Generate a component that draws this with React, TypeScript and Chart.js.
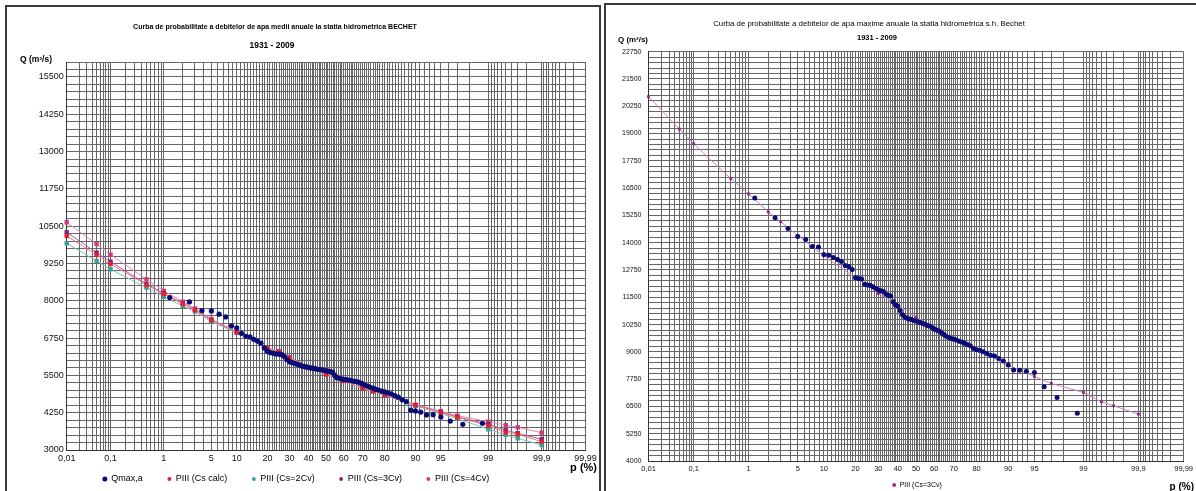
import React, { useEffect, useRef } from 'react';
import { Chart, LinearScale, registerables } from 'chart.js';

Chart.register(...registerables);

const FONT = "'Liberation Sans Narrow', 'Arial Narrow', 'Liberation Sans', Arial, sans-serif";

// ---------------- DATA ----------------
// plotting positions (%) of the 79 observed values (1931-2009)
const plottingPositions = [1.25, 2.5, 3.75, 5, 6.25, 7.5, 8.75, 10, 11.25, 12.5, 13.75, 15, 16.25, 17.5, 18.75, 20, 21.25, 22.5, 23.75, 25, 26.25, 27.5, 28.75, 30, 31.25, 32.5, 33.75, 35, 36.25, 37.5, 38.75, 40, 41.25, 42.5, 43.75, 45, 46.25, 47.5, 48.75, 50, 51.25, 52.5, 53.75, 55, 56.25, 57.5, 58.75, 60, 61.25, 62.5, 63.75, 65, 66.25, 67.5, 68.75, 70, 71.25, 72.5, 73.75, 75, 76.25, 77.5, 78.75, 80, 81.25, 82.5, 83.75, 85, 86.25, 87.5, 88.75, 90, 91.25, 92.5, 93.75, 95, 96.25, 97.5, 98.75];

// left chart: observed values Qmax,a
const qMeanObs = [8110, 7960, 7670, 7660, 7550, 7460, 7160, 7090, 6910, 6810,
  6790, 6710, 6650, 6580, 6420, 6310, 6260, 6240, 6220, 6210,
  6195, 6130, 6030, 5960, 5930, 5905, 5880, 5850, 5820, 5800,
  5785, 5770, 5750, 5740, 5725, 5705, 5695, 5685, 5670, 5655,
  5640, 5625, 5600, 5500, 5420, 5400, 5380, 5370, 5360, 5345,
  5330, 5310, 5295, 5280, 5250, 5215, 5170, 5140, 5100, 5070,
  5030, 5010, 4970, 4950, 4910, 4880, 4820, 4770, 4680, 4620,
  4340, 4310, 4270, 4175, 4185, 4105, 3970, 3860, 3895];

// right chart: observed maxima
const qMaxObs = [16050, 15140, 14650, 14280, 14150, 13830, 13800, 13460, 13420, 13320,
  13230, 13140, 12960, 12910, 12770, 12390, 12360, 12340, 12100, 12060,
  12040, 11980, 11900, 11850, 11800, 11760, 11640, 11590, 11560, 11300,
  11150, 11100, 10900, 10700, 10600, 10540, 10510, 10480, 10440, 10410,
  10370, 10350, 10300, 10260, 10210, 10180, 10110, 10030, 10000, 9950,
  9880, 9800, 9720, 9660, 9610, 9580, 9540, 9490, 9450, 9390,
  9340, 9280, 9150, 9100, 9060, 9000, 8930, 8844, 8812, 8690,
  8580, 8400, 8170, 8160, 8110, 8050, 7400, 6910, 6190];

// Pearson III curves (probabilities in %)
const curveP = [0.01, 0.05, 0.1, 0.5, 1, 2, 3, 5, 10, 20, 25, 30, 40, 50, 60, 70, 75, 80, 90, 95, 97, 99, 99.5, 99.7, 99.9];
const qCsCalc = [10170, 9535, 9233, 8530, 8228, 7892, 7685, 7340, 6940, 6410, 6292, 6093, 5770, 5550, 5320, 5064, 4973, 4838, 4500, 4255, 4095, 3815, 3590, 3525, 3280];
const qCs2Cv = [9926, 9333, 9055, 8440, 8137, 7826, 7640, 7300, 6920, 6400, 6288, 6090, 5775, 5565, 5328, 5062, 4970, 4834, 4480, 4220, 4050, 3695, 3505, 3390, 3170];
const qCs3Cv = [10295, 9612, 9310, 8563, 8250, 7915, 7700, 7350, 6945, 6415, 6295, 6095, 5768, 5545, 5318, 5065, 4975, 4840, 4505, 4270, 4110, 3870, 3660, 3560, 3360];
const qCs4Cv = [10630, 9900, 9545, 8720, 8330, 7970, 7740, 7390, 6960, 6420, 6300, 6100, 5760, 5530, 5310, 5070, 4978, 4845, 4520, 4300, 4150, 3950, 3830, 3760, 3580];
const qMaxCs3Cv = [20694, 19204, 18533, 16933, 16234, 15411, 14960, 14330, 13400, 12377, 12043, 11680, 11129, 10594, 10110, 9620, 9347, 9087, 8387, 7871, 7551, 7140, 6710, 6527, 6148];

// axis tick labels
const xTickValues = [0.01, 0.1, 1, 5, 10, 20, 30, 40, 50, 60, 70, 80, 90, 95, 99, 99.9, 99.99];
const xTickLabels = ['0,01', '0,1', '1', '5', '10', '20', '30', '40', '50', '60', '70', '80', '90', '95', '99', '99,9', '99,99'];
const yLabelsLeft = [3000, 4250, 5500, 6750, 8000, 9250, 10500, 11750, 13000, 14250, 15500];
const yLabelsRight = [4000, 5250, 6500, 7750, 9000, 10250, 11500, 12750, 14000, 15250, 16500, 17750, 19000, 20250, 21500, 22750];

// ---------------- probability (normal) scale ----------------
function probit(p: number): number {
  const a = [-3.969683028665376e+01, 2.209460984245205e+02, -2.759285104469687e+02, 1.383577518672690e+02, -3.066479806614716e+01, 2.506628277459239e+00];
  const b = [-5.447609879822406e+01, 1.615858368580409e+02, -1.556989798598866e+02, 6.680131188771972e+01, -1.328068155288572e+01];
  const c = [-7.784894002430293e-03, -3.223964580411365e-01, -2.400758277161838e+00, -2.549732539343734e+00, 4.374664141464968e+00, 2.938163982698783e+00];
  const d = [7.784695709041462e-03, 3.224671290700398e-01, 2.445134137142996e+00, 3.754408661907416e+00];
  const pl = 0.02425;
  if (p < pl) {
    const q = Math.sqrt(-2 * Math.log(p));
    return (((((c[0] * q + c[1]) * q + c[2]) * q + c[3]) * q + c[4]) * q + c[5]) / ((((d[0] * q + d[1]) * q + d[2]) * q + d[3]) * q + 1);
  }
  if (p > 1 - pl) {
    const q = Math.sqrt(-2 * Math.log(1 - p));
    return -(((((c[0] * q + c[1]) * q + c[2]) * q + c[3]) * q + c[4]) * q + c[5]) / ((((d[0] * q + d[1]) * q + d[2]) * q + d[3]) * q + 1);
  }
  const q = p - 0.5;
  const r = q * q;
  return (((((a[0] * r + a[1]) * r + a[2]) * r + a[3]) * r + a[4]) * r + a[5]) * q / (((((b[0] * r + b[1]) * r + b[2]) * r + b[3]) * r + b[4]) * r + 1);
}

function zOfPercent(v: number): number {
  const p = Math.min(Math.max(v / 100, 1e-9), 1 - 1e-9);
  return probit(p);
}

class ProbabilityScale extends LinearScale {
  static id = 'probability';
  static defaults = LinearScale.defaults;
  getPixelForValue(value: number) {
    const z0 = zOfPercent(this.min);
    const z1 = zOfPercent(this.max);
    return this.getPixelForDecimal((zOfPercent(value) - z0) / (z1 - z0));
  }
  getValueForPixel(pixel: number) {
    const z0 = zOfPercent(this.min);
    const z1 = zOfPercent(this.max);
    const target = z0 + this.getDecimalForPixel(pixel) * (z1 - z0);
    let lo = this.min, hi = this.max;
    for (let i = 0; i < 60; i++) {
      const mid = (lo + hi) / 2;
      if (zOfPercent(mid) < target) lo = mid; else hi = mid;
    }
    return (lo + hi) / 2;
  }
}
Chart.register(ProbabilityScale as any);

// grid positions of the probability paper
function probabilityGrid(): number[] {
  const g: number[] = [];
  for (let k = 1; k <= 9; k++) g.push(+(k * 0.01).toFixed(2));
  for (let k = 1; k <= 9; k++) g.push(+(k * 0.1).toFixed(1));
  for (let k = 1; k <= 99; k++) g.push(k);
  for (let k = 1; k <= 9; k++) g.push(+(99 + k * 0.1).toFixed(1));
  for (let k = 1; k <= 9; k++) g.push(+(99.9 + k * 0.01).toFixed(2));
  return g;
}
function stepGrid(min: number, max: number, step: number): number[] {
  const g: number[] = [];
  for (let v = min; v <= max; v += step) g.push(v);
  return g;
}
const xGrid = probabilityGrid();

function xLabel(value: number): string {
  const i = xTickValues.findIndex((t) => Math.abs(t - value) < 1e-6);
  return i >= 0 ? xTickLabels[i] : '';
}

interface TextItem { text: string; x: number; y: number; weight: string; size: number; align: CanvasTextAlign; fitWidth?: number }
interface LegendSpec { centerX: number; y: number; size: number; gap: number; exclude: string[] }

function panelPlugin(items: TextItem[], legend: LegendSpec) {
  return {
    id: 'panelTexts',
    afterDraw(chart: Chart) {
      const ctx = chart.ctx;
      ctx.save();
      ctx.fillStyle = '#000';
      ctx.textBaseline = 'middle';
      for (const t of items) {
        let size = t.size;
        ctx.font = `${t.weight} ${size}px ${FONT}`;
        if (t.fitWidth) {
          const w = ctx.measureText(t.text).width;
          size = size * t.fitWidth / w;
          ctx.font = `${t.weight} ${size}px ${FONT}`;
        }
        ctx.textAlign = t.align;
        ctx.fillText(t.text, t.x, t.y);
      }
      // legend
      const dsList = (chart.data.datasets as any[]).filter((ds) => !legend.exclude.includes(ds.label));
      ctx.font = `${legend.size}px ${FONT}`;
      const box = 4;
      const widths = dsList.map((ds) => box + legend.size / 2 + ctx.measureText(ds.label).width);
      const total = widths.reduce((s, w) => s + w, 0) + legend.gap * (dsList.length - 1);
      let x = legend.centerX - total / 2;
      dsList.forEach((ds, i) => {
        const color = ds.pointBackgroundColor || ds.backgroundColor;
        ctx.fillStyle = color;
        ctx.beginPath();
        ctx.arc(x + box / 2, legend.y, ds.showLine ? 1.9 : 2.5, 0, Math.PI * 2);
        ctx.fill();
        ctx.fillStyle = '#000';
        ctx.textAlign = 'left';
        ctx.fillText(ds.label, x + box + legend.size / 2, legend.y);
        x += widths[i] + legend.gap;
      });
      ctx.restore();
    },
  };
}

const GRID = '#666666';

interface PanelOpts {
  yMin: number; yMax: number; yLabels: number[]; yWidth: number; yFont: number; yPad: number;
  xFont: number; xHeight: number;
  padding: { left: number; right: number; top: number; bottom: number };
}

function panelOptions(o: PanelOpts): any {
  const yGrid = stepGrid(o.yMin, o.yMax, 250);
  return {
    responsive: false,
    animation: false,
    events: [],
    layout: { padding: o.padding, autoPadding: false },
    plugins: {
      title: { display: false },
      tooltip: { enabled: false },
      legend: { display: false },
    },
    scales: {
      x: {
        type: 'probability',
        min: 0.01,
        max: 99.99,
        afterBuildTicks: (s: any) => { s.ticks = xGrid.map((v) => ({ value: v })); },
        afterFit: (s: any) => { s.height = o.xHeight; },
        ticks: {
          autoSkip: false, maxRotation: 0, minRotation: 0, padding: 3, color: '#111',
          font: { size: o.xFont, family: FONT },
          callback: (v: number) => xLabel(v),
        },
        grid: { color: GRID, lineWidth: 1, drawTicks: false },
        border: { color: '#333', width: 1 },
      },
      y: {
        type: 'linear',
        min: o.yMin,
        max: o.yMax,
        afterBuildTicks: (s: any) => { s.ticks = yGrid.map((v) => ({ value: v })); },
        afterFit: (s: any) => { s.width = o.yWidth; },
        ticks: {
          autoSkip: false, padding: o.yPad, color: '#111',
          font: { size: o.yFont, family: FONT },
          callback: (v: number) => (o.yLabels.includes(v) ? String(v) : ''),
        },
        grid: { color: GRID, lineWidth: 1, drawTicks: false },
        border: { color: '#333', width: 1 },
      },
    },
  };
}

function pts(xs: number[], ys: number[]) {
  return xs.map((x, i) => ({ x, y: ys[i] }));
}

function curveDataset(label: string, ys: number[], marker: string, line: string, radius: number) {
  return {
    label,
    data: pts(curveP, ys),
    showLine: true,
    borderColor: line,
    borderWidth: 1,
    backgroundColor: marker,
    pointStyle: 'rect',
    pointRadius: radius,
    pointBackgroundColor: marker,
    pointBorderColor: marker,
    pointBorderWidth: 0,
    clip: false,
  };
}

function leftConfig(): any {
  return {
    type: 'scatter',
    data: {
      datasets: [
        {
          label: 'Qmax,a', data: pts(plottingPositions, qMeanObs), showLine: false,
          pointStyle: 'circle', pointRadius: 2.6, backgroundColor: '#0b0b78', borderColor: '#0b0b78',
          pointBorderWidth: 0, clip: false,
        },
        curveDataset('PIII (Cs calc)', qCsCalc, '#e4202c', '#ef7a7a', 3.1),
        curveDataset('PIII (Cs=2Cv)', qCs2Cv, '#3a9f9a', '#7cc3be', 3.1),
        curveDataset('PIII (Cs=3Cv)', qCs3Cv, '#86207a', '#a860a0', 3.1),
        curveDataset('PIII (Cs=4Cv)', qCs4Cv, '#cf3a7c', '#e48ab2', 3.1),
      ],
    },
    options: panelOptions({
      yMin: 3000, yMax: 16000, yLabels: yLabelsLeft, yWidth: 60.2, yFont: 9, yPad: 3,
      xFont: 9, xHeight: 14,
      padding: { left: 6.5, right: 14.5, top: 62, bottom: 46 },
    }),
    plugins: [panelPlugin([
      { text: 'Curba de probabilitate a debitelor de apa medii anuale la statia hidrometrica BECHET', x: 275, y: 27.5, weight: 'bold', size: 8, align: 'center', fitWidth: 284 },
      { text: '1931 - 2009', x: 272, y: 45.5, weight: 'bold', size: 11, align: 'center', fitWidth: 45 },
      { text: 'Q (m³/s)', x: 20, y: 60, weight: 'bold', size: 10, align: 'left', fitWidth: 32 },
      { text: 'p (%)', x: 597, y: 468, weight: 'bold', size: 11, align: 'right' },
    ], { centerX: 296, y: 479, size: 9, gap: 24.5, exclude: [] })],
  };
}

function rightConfig(): any {
  return {
    type: 'scatter',
    data: {
      datasets: [
        {
          label: 'Qmax,a', data: pts(plottingPositions, qMaxObs), showLine: false,
          pointStyle: 'circle', pointRadius: 2.5, backgroundColor: '#0b0b78', borderColor: '#0b0b78',
          pointBorderWidth: 0, clip: false,
        },
        curveDataset('PIII (Cs=3Cv)', qMaxCs3Cv, '#8e2a80', '#cf84b8', 2),
      ],
    },
    options: panelOptions({
      yMin: 4000, yMax: 22750, yLabels: yLabelsRight, yWidth: 48.5, yFont: 7, yPad: 7,
      xFont: 7.5, xHeight: 12,
      padding: { left: 0, right: 12, top: 51.7, bottom: 37 },
    }),
    plugins: [panelPlugin([
      { text: 'Curba de probabilitate a debitelor de apa maxime anuale la statia hidrometrica s.h. Bechet', x: 269, y: 23.5, weight: 'normal', size: 8, align: 'center', fitWidth: 312 },
      { text: '1931 - 2009', x: 277, y: 37.5, weight: 'bold', size: 9, align: 'center', fitWidth: 40 },
      { text: 'Q (m³/s)', x: 18, y: 40, weight: 'bold', size: 9, align: 'left', fitWidth: 30 },
      { text: 'p (%)', x: 594, y: 487, weight: 'bold', size: 10, align: 'right' },
    ], { centerX: 317, y: 485, size: 7, gap: 0, exclude: ['Qmax,a'] })],
  };
}

function ChartCanvas(props: { make: () => any; left: number; top: number; width: number; height: number }) {
  const ref = useRef<HTMLCanvasElement>(null);
  useEffect(() => {
    const chart = new Chart(ref.current as HTMLCanvasElement, props.make());
    return () => chart.destroy();
  }, []);
  return (
    <canvas
      ref={ref}
      width={props.width}
      height={props.height}
      style={{ position: 'absolute', left: props.left, top: props.top, width: props.width, height: props.height }}
    />
  );
}

export default function App() {
  return (
    <div style={{ position: 'absolute', left: 0, top: 0, width: 1196, height: 491, overflow: 'hidden', background: '#fff' }}>
      <div style={{ position: 'absolute', left: 5, top: 5, width: 596, height: 520, border: '2px solid #3a3a3a', boxSizing: 'border-box' }} />
      <div style={{ position: 'absolute', left: 604, top: 3, width: 600, height: 520, border: '2px solid #3a3a3a', boxSizing: 'border-box' }} />
      <ChartCanvas make={leftConfig} left={0} top={0} width={600} height={510} />
      <ChartCanvas make={rightConfig} left={600} top={0} width={596} height={510} />
    </div>
  );
}
